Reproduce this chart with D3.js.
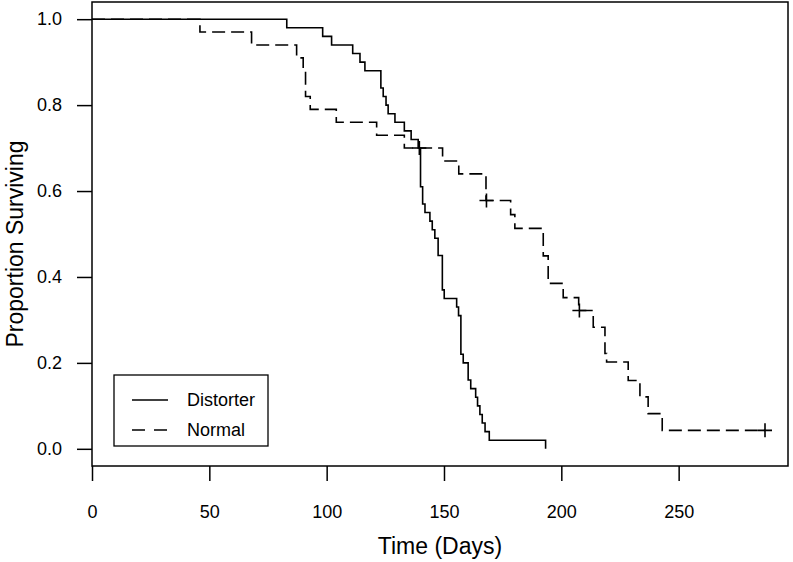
<!DOCTYPE html>
<html>
<head>
<meta charset="utf-8">
<script src="https://cdn.jsdelivr.net/npm/d3@7"></script>
<style>
  body { margin: 0; background: #fff; }
  svg { display: block; font-family: "Liberation Sans", Arial, Helvetica, sans-serif; }
</style>
</head>
<body>
<svg id="chart" width="793" height="562"></svg>
<script>
// ---- Data ----
const distorterTime = [0, 83.0, 98.3, 102.1, 111.1, 114.2, 116.3, 123.1, 124.1, 125.3, 126.2, 129.1, 133.1, 136.0, 139.0, 140.0, 140.9, 141.9, 144.0, 145.0, 146.1, 147.5, 149.3, 150.1, 155.4, 156.2, 157.2, 158.2, 160.3, 161.4, 163.5, 164.3, 165.3, 166.3, 167.5, 169.3, 193.3];
const distorterSurv = [1.0, 0.98, 0.96, 0.94, 0.92, 0.90, 0.88, 0.84, 0.82, 0.80, 0.78, 0.76, 0.74, 0.72, 0.70, 0.61, 0.57, 0.55, 0.53, 0.51, 0.49, 0.45, 0.37, 0.35, 0.33, 0.31, 0.22, 0.20, 0.16, 0.14, 0.12, 0.10, 0.08, 0.06, 0.04, 0.02, 0.0];

const normalTime = [0, 46.0, 68.0, 87.2, 90.0, 91.0, 93.0, 104.1, 121.3, 133.1, 149.4, 156.3, 167.9, 178.4, 180.2, 192.3, 194.4, 200.8, 207.4, 213.6, 218.6, 219.3, 228.5, 233.5, 237.0, 243.0, 286.8];
const normalSurv = [1.0, 0.97, 0.94, 0.91, 0.88, 0.82, 0.79, 0.76, 0.73, 0.70, 0.67, 0.64, 0.578, 0.545, 0.513, 0.449, 0.385, 0.352, 0.322, 0.283, 0.222, 0.202, 0.159, 0.121, 0.082, 0.043, 0.043];
const normalCensorTime = [139.5, 168.1, 207.7, 286.8];

const xTicks = [0, 50, 100, 150, 200, 250];
const yTicks = [0, 0.2, 0.4, 0.6, 0.8, 1.0];
const legendLabels = ["Distorter", "Normal"];

// ---- Layout ----
const svg = d3.select("#chart");
const box = { left: 92, right: 788, top: 2, bottom: 466 };

const x = d3.scaleLinear().domain([0, 296.6]).range([box.left, box.right]);
const y = d3.scaleLinear().domain([-0.04, 1.04]).range([box.bottom, box.top]);

// Plot box
svg.append("rect")
  .attr("x", box.left).attr("y", box.top)
  .attr("width", box.right - box.left).attr("height", box.bottom - box.top)
  .attr("fill", "none").attr("stroke", "#000").attr("stroke-width", 1.5);

// Axes
const xAxis = d3.axisBottom(x).tickValues(xTicks).tickFormat(d3.format("d"))
  .tickSize(15).tickSizeOuter(0).tickPadding(24);
const gx = svg.append("g").attr("transform", `translate(0,${box.bottom})`).call(xAxis);
gx.select(".domain").remove();
gx.selectAll("line").attr("stroke", "#000").attr("stroke-width", 1.5);
gx.selectAll("text").attr("font-size", 18).attr("fill", "#000");

const yAxis = d3.axisLeft(y).tickValues(yTicks).tickFormat(d3.format(".1f"))
  .tickSize(15).tickSizeOuter(0).tickPadding(15);
const gy = svg.append("g").attr("transform", `translate(${box.left},0)`).call(yAxis);
gy.select(".domain").remove();
gy.selectAll("line").attr("stroke", "#000").attr("stroke-width", 1.5);
gy.selectAll("text").attr("font-size", 18).attr("fill", "#000");

// Axis titles
svg.append("text")
  .attr("x", (box.left + box.right) / 2).attr("y", 554)
  .attr("text-anchor", "middle").attr("font-size", 23).text("Time (Days)");
svg.append("text")
  .attr("transform", `translate(23,${(box.top + box.bottom) / 2 + 10}) rotate(-90)`)
  .attr("text-anchor", "middle").attr("font-size", 23).text("Proportion Surviving");

// Curves
const line = d3.line().curve(d3.curveStepAfter).x(d => x(d[0])).y(d => y(d[1]));
const distorter = distorterTime.map((t, i) => [t, distorterSurv[i]]);
const normal = normalTime.map((t, i) => [t, normalSurv[i]]);

svg.append("path").datum(distorter).attr("d", line)
  .attr("fill", "none").attr("stroke", "#000").attr("stroke-width", 1.6);
svg.append("path").datum(normal).attr("d", line)
  .attr("fill", "none").attr("stroke", "#000").attr("stroke-width", 1.6)
  .attr("stroke-dasharray", "13,6");

// Censor marks
const bis = d3.bisector(d => d).right;
const survAt = t => normalSurv[Math.max(0, bis(normalTime, t) - 1)];
const half = 7;
svg.append("g").selectAll("path").data(normalCensorTime).join("path")
  .attr("d", t => {
    const cx = x(t), cy = y(survAt(t));
    return `M${cx - half},${cy}H${cx + half}M${cx},${cy - half}V${cy + half}`;
  })
  .attr("stroke", "#000").attr("stroke-width", 1.6).attr("fill", "none");

// Legend
const lg = svg.append("g");
lg.append("rect").attr("x", 114).attr("y", 375).attr("width", 154).attr("height", 71)
  .attr("fill", "#fff").attr("stroke", "#000").attr("stroke-width", 1.3);
legendLabels.forEach((lab, i) => {
  const ly = 400 + i * 30;
  lg.append("line").attr("x1", 132).attr("x2", 168).attr("y1", ly).attr("y2", ly)
    .attr("stroke", "#000").attr("stroke-width", 1.6)
    .attr("stroke-dasharray", i === 1 ? "13,9" : null);
  lg.append("text").attr("x", 187).attr("y", ly).attr("dy", "0.35em")
    .attr("font-size", 18).text(lab);
});
</script>
</body>
</html>
